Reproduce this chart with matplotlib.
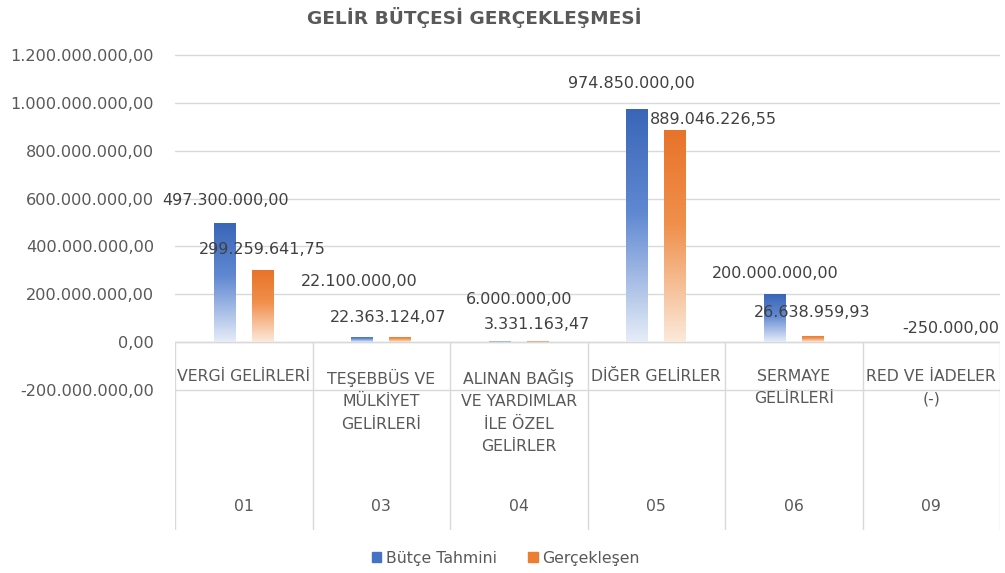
import numpy as np
import matplotlib
matplotlib.use("Agg")
import matplotlib.pyplot as plt
from matplotlib.colors import to_rgb
from matplotlib.patches import Rectangle

# ---------------- data ----------------
codes = ['01', '03', '04', '05', '06', '09']
categories = ['VERGİ GELİRLERİ',
              'TEŞEBBÜS VE\nMÜLKİYET\nGELİRLERİ',
              'ALINAN BAĞIŞ\nVE YARDIMLAR\nİLE ÖZEL\nGELİRLER',
              'DİĞER GELİRLER',
              'SERMAYE\nGELİRLERİ',
              'RED VE İADELER\n(-)']
butce_tahmini = [497300000.00, 22100000.00, 6000000.00, 974850000.00, 200000000.00, -250000.00]
gerceklesen = [299259641.75, 22363124.07, 3331163.47, 889046226.55, 26638959.93, np.nan]
series_names = ['Bütçe Tahmini', 'Gerçekleşen']
yticks = [-200e6, 0, 200e6, 400e6, 600e6, 800e6, 1000e6, 1200e6]
title = 'GELİR BÜTÇESİ GERÇEKLEŞMESİ'

# ---------------- style / layout ----------------
BLUE = '#4472C4'
ORANGE = '#ED7D31'
BLUE_STOPS = ['#E6EDF8', '#6189D2', '#3A66B8']     # bottom, middle, top
ORANGE_STOPS = ['#FCEADB', '#F0904C', '#E8732A']
TXT = '#595959'
GRID = '#D9D9D9'
plt.rcParams['font.family'] = ['DejaVu Sans']

# label offsets in pixels (dx, dy) from bar top
blue_label_off = [(1, 23), (-3, 55), (19, 41), (-6, 26), (0, 21), (38, 14)]
orange_label_off = [(0, 21), (-12, 19), (-1, 17), (38, 10), (-1, 23), (0, 0)]


def tr_fmt(v):
    s = f"{v:,.2f}"
    return s.replace(',', 'X').replace('.', ',').replace('X', '.')


fig = plt.figure(figsize=(10.05, 5.73), dpi=100)
ax = fig.add_axes([175 / 1005, 1 - 530 / 573, 825 / 1005, 480 / 573])

ymin, ymax = -786.6e6, 1221.8e6
x = np.arange(len(codes))
bw = 0.16
off = 0.138


def grad_bar(ax, xc, h, w, stops):
    if not np.isfinite(h) or h == 0:
        return
    rect = Rectangle((xc - w / 2, min(0, h)), w, abs(h), facecolor='none',
                     edgecolor='none')
    ax.add_patch(rect)
    n = 256
    t = np.linspace(0, 1, n)  # 0 bottom, 1 top
    s = np.array([to_rgb(c) for c in stops])
    pos = [0.0, 0.55, 1.0]
    rgb = np.stack([np.interp(t, pos, s[:, k]) for k in range(3)], axis=1)
    img = rgb[::-1][:, None, :]
    im = ax.imshow(img, extent=[xc - w / 2, xc + w / 2, 0, h], aspect='auto',
                   origin='upper', interpolation='bilinear', zorder=2)
    im.set_clip_path(rect)


for i in range(len(codes)):
    grad_bar(ax, x[i] - off, butce_tahmini[i], bw, BLUE_STOPS)
    grad_bar(ax, x[i] + off, gerceklesen[i], bw, ORANGE_STOPS)

# value labels
for i in range(len(codes)):
    v = butce_tahmini[i]
    dx, dy = blue_label_off[i]
    ax.annotate(tr_fmt(v), (x[i] - off, max(v, 0)), xytext=(dx, dy),
                textcoords='offset pixels', ha='center', va='center',
                fontsize=11.5, color='#404040', zorder=5)
    v = gerceklesen[i]
    if np.isfinite(v):
        dx, dy = orange_label_off[i]
        ax.annotate(tr_fmt(v), (x[i] + off, max(v, 0)), xytext=(dx, dy),
                    textcoords='offset pixels', ha='center', va='center',
                    fontsize=11.5, color='#404040', zorder=5)

ax.set_xlim(-0.5, len(codes) - 0.5)
ax.set_ylim(ymin, ymax)
ax.set_yticks(yticks)
ax.set_yticklabels([tr_fmt(v) for v in yticks])
ax.set_xticks([])
ax.tick_params(axis='y', length=0, pad=15, labelsize=11.6, labelcolor=TXT)
ax.yaxis.grid(True, color=GRID, lw=1)
ax.set_axisbelow(True)
for s in ax.spines.values():
    s.set_visible(False)

# category axis (multi-level)
ax.axhline(0, color=GRID, lw=1, zorder=1.5)
ax.vlines(np.arange(-0.5, len(codes)), ymin, 0, color=GRID, lw=1, zorder=1.5)
for i in range(len(codes)):
    ax.annotate(categories[i], (x[i], 0), xytext=(0, -27),
                textcoords='offset pixels', ha='center', va='top',
                fontsize=11.3, color=TXT, linespacing=1.62)
    ax.annotate(codes[i], (x[i], 0), xytext=(0, -164),
                textcoords='offset pixels', ha='center', va='center',
                fontsize=11.3, color=TXT)

fig.text(474 / 1005, 1 - 18 / 573, title, ha='center', va='center',
         fontsize=13.3, fontweight='bold', color=TXT)

handles = [Rectangle((0, 0), 1, 1, color=BLUE), Rectangle((0, 0), 1, 1, color=ORANGE)]
fig.legend(handles, series_names, loc='center', bbox_to_anchor=(506 / 1005, 1 - 558 / 573),
           ncol=2, frameon=False, handlelength=0.6, handleheight=0.6,
           handletextpad=0.3, columnspacing=2.0, fontsize=11.3, labelcolor=TXT)

fig.savefig('out.png', dpi=100, facecolor='white')
